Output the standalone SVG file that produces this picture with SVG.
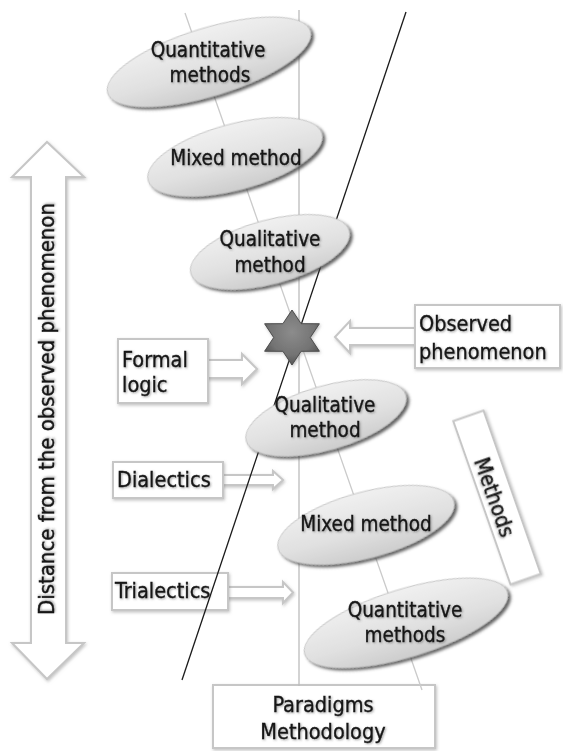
<svg xmlns="http://www.w3.org/2000/svg" width="563" height="751" viewBox="0 0 563 751">
<defs>
<linearGradient id="ellG" x1="0" y1="0" x2="0" y2="1">
<stop offset="0" stop-color="#f0f0f0"/>
<stop offset="0.6" stop-color="#e0e0e0"/>
<stop offset="1" stop-color="#cdcdcd"/>
</linearGradient>
<radialGradient id="starG" cx="0.5" cy="0.4" r="0.6">
<stop offset="0" stop-color="#8c8c8c"/>
<stop offset="0.7" stop-color="#737373"/>
<stop offset="1" stop-color="#555555"/>
</radialGradient>
<filter id="shE" x="-20%" y="-40%" width="140%" height="180%">
<feDropShadow dx="2" dy="3" stdDeviation="1.6" flood-color="#3a3a3a" flood-opacity="0.8"/>
</filter>
<filter id="shB" x="-20%" y="-30%" width="140%" height="160%">
<feDropShadow dx="1" dy="1.5" stdDeviation="1.5" flood-color="#888" flood-opacity="0.5"/>
</filter>
<filter id="shT" x="-10%" y="-30%" width="120%" height="160%">
<feDropShadow dx="1" dy="1" stdDeviation="0.9" flood-color="#444" flood-opacity="0.5"/>
</filter>
</defs>
<style>
text{font-family:"DejaVu Sans Condensed","DejaVu Sans",sans-serif;font-stretch:condensed;fill:#141414;stroke:#141414;stroke-width:0.35;filter:url(#shT)}
.e{font-size:20.5px;text-anchor:middle}
.b{font-size:21.5px}
.box{fill:#ffffff;stroke:#c6c6c6;stroke-width:2;filter:url(#shB)}
.arr{fill:#ffffff;stroke:#c6c6c6;stroke-width:2;stroke-linejoin:miter;filter:url(#shB)}
.ell{fill:url(#ellG);stroke:#bdbdbd;stroke-width:0.8;filter:url(#shE)}
</style>
<rect width="563" height="751" fill="#ffffff"/>

<g id="distance-arrow">
<polygon class="arr" points="47,142 84,177 66,177 66,643 84,643 47,679 12,643 31,643 31,177 12,177"/>
<text class="b" transform="translate(54,409) rotate(-90)" text-anchor="middle" textLength="412" lengthAdjust="spacingAndGlyphs">Distance from the observed phenomenon</text>
</g>

<g id="formal-logic">
<polygon class="arr" points="206,360 242,360 242,354 257,369 242,384 242,378 206,378"/>
<rect class="box" x="118" y="339" width="90" height="64"/>
<text class="b" x="122" y="367">Formal</text>
<text class="b" x="122" y="392">logic</text>
</g>

<g id="dialectics">
<polygon class="arr" points="221,475 273,475 273,471 283,480 273,489 273,485 221,485"/>
<rect class="box" x="113" y="462" width="110" height="36"/>
<text class="b" x="117" y="487">Dialectics</text>
</g>

<g id="trialectics">
<polygon class="arr" points="226,587 283,587 283,582 293,592.5 283,603 283,598 226,598"/>
<rect class="box" x="112" y="573" width="116" height="37"/>
<text class="b" x="115" y="598">Trialectics</text>
</g>

<g id="observed-phenomenon">
<polygon class="arr" points="335,337 350,321 350,328 417,328 417,345 350,345 350,353"/>
<rect class="box" x="415" y="305" width="145" height="63"/>
<text class="b" x="419" y="331">Observed</text>
<text class="b" x="419" y="359">phenomenon</text>
</g>

<g id="paradigms-methodology">
<rect class="box" x="213" y="685" width="222" height="63"/>
<text class="b" x="323" y="712" text-anchor="middle">Paradigms</text>
<text class="b" x="323" y="739" text-anchor="middle">Methodology</text>
</g>

<g id="methods-label">
<g transform="translate(497,497.5) rotate(-19.3)">
<rect class="box" x="-16" y="-86.5" width="32" height="173"/>
</g>
<text class="b" transform="translate(495,497) rotate(70.7)" text-anchor="middle" dy="0.35em">Methods</text>
</g>

<g id="connectors">
<line x1="299" y1="10" x2="299" y2="686" stroke="#bcbcbc" stroke-width="1.3"/>
<line x1="185" y1="13" x2="422" y2="690" stroke="#cacaca" stroke-width="1.3"/>
<line x1="406" y1="12" x2="182" y2="680" stroke="#1a1a1a" stroke-width="1.3"/>
</g>

<g id="star">
<polygon points="292,310 301.1,323.7 319.4,323.75 310.3,337.5 319.4,351.25 301.1,351.3 292,365 282.9,351.3 264.6,351.25 273.7,337.5 264.6,323.75 282.9,323.7" fill="url(#starG)" stroke="#4a4a4a" stroke-width="1" filter="url(#shB)"/>
</g>

<g id="quantitative-top">
<ellipse class="ell" transform="translate(209,62) rotate(-17)" rx="106" ry="34"/>
<text class="e" x="208" y="57">Quantitative</text>
<text class="e" x="210" y="82">methods</text>
</g>

<g id="mixed-top">
<ellipse class="ell" transform="translate(235,157) rotate(-15)" rx="90" ry="33"/>
<text class="e" x="236" y="165">Mixed method</text>
</g>

<g id="qualitative-top">
<ellipse class="ell" transform="translate(270,252) rotate(-15)" rx="82" ry="32"/>
<text class="e" x="270" y="246">Qualitative</text>
<text class="e" x="270" y="272">method</text>
</g>

<g id="qualitative-bottom">
<ellipse class="ell" transform="translate(326,418) rotate(-16)" rx="83" ry="32"/>
<text class="e" x="325" y="412">Qualitative</text>
<text class="e" x="325" y="437">method</text>
</g>

<g id="mixed-bottom">
<ellipse class="ell" transform="translate(366,525) rotate(-15)" rx="91" ry="33"/>
<text class="e" x="366" y="531">Mixed method</text>
</g>

<g id="quantitative-bottom">
<ellipse class="ell" transform="translate(406,623) rotate(-17)" rx="106" ry="34"/>
<text class="e" x="405" y="617">Quantitative</text>
<text class="e" x="405" y="642">methods</text>
</g>
</svg>
